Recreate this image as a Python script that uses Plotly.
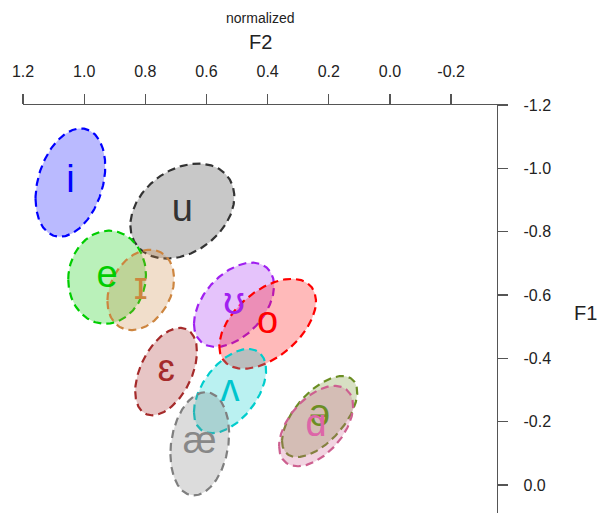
import numpy as np
import plotly.graph_objects as go

# Vowel ellipses (normalized F2, F1): centers, half-width (F2), half-height (F1), correlation
vowels = ["i", "u", "e", "ɪ", "ʊ", "o", "ɛ", "ʌ", "æ", "ə", "ɑ"]
f2_center = [1.045, 0.679, 0.925, 0.815, 0.510, 0.400, 0.732, 0.523, 0.622, 0.230, 0.2415]
f1_center = [-0.955, -0.865, -0.656, -0.616, -0.569, -0.509, -0.358, -0.2965, -0.130, -0.216, -0.186]
f2_halfwidth = [0.114, 0.170, 0.127, 0.109, 0.131, 0.158, 0.101, 0.118, 0.096, 0.123, 0.121]
f1_halfheight = [0.171, 0.150, 0.147, 0.127, 0.133, 0.142, 0.138, 0.133, 0.163, 0.128, 0.127]
correlation = [0.30, 0.30, 0.05, 0.28, 0.45, 0.50, 0.45, 0.50, 0.20, 0.60, 0.50]
line_colors = ["#0000ff", "#333333", "#00cd00", "#cd853f", "#a020f0", "#ff0000",
               "#a52a2a", "#00cdcd", "#7f7f7f", "#6b8e23", "#cd6090"]
text_colors = ["#0000ff", "#333333", "#00cd00", "#cd853f", "#a020f0", "#ff0000",
               "#a52a2a", "#00c5cd", "#888888", "#6b8e23", "#dd66a8"]

xtick_vals = [1.2, 1.0, 0.8, 0.6, 0.4, 0.2, 0.0, -0.2]
ytick_vals = [-1.2, -1.0, -0.8, -0.6, -0.4, -0.2, 0.0]

FONT = "Liberation Sans, Arial, sans-serif"


def hex_rgba(h, a):
    h = h.lstrip("#")
    r, g, b = int(h[0:2], 16), int(h[2:4], 16), int(h[4:6], 16)
    return f"rgba({r},{g},{b},{a})"


fig = go.Figure()
t = np.linspace(0, 2 * np.pi, 240)
for k in range(len(vowels)):
    rho = correlation[k]
    xs = f2_center[k] + f2_halfwidth[k] * np.cos(t)
    ys = f1_center[k] + f1_halfheight[k] * (rho * np.cos(t) + np.sqrt(1 - rho ** 2) * np.sin(t))
    fig.add_trace(go.Scatter(
        x=xs, y=ys, mode="lines", fill="toself",
        fillcolor=hex_rgba(line_colors[k], 0.27),
        line=dict(color=line_colors[k], width=2.2, dash="8px,5px"),
        hoverinfo="skip", showlegend=False,
    ))

for k in range(len(vowels)):
    fig.add_trace(go.Scatter(
        x=[f2_center[k]], y=[f1_center[k]], mode="text", text=[vowels[k]],
        textposition="middle center",
        textfont=dict(size=38, color=text_colors[k], family=FONT),
        hoverinfo="skip", showlegend=False,
    ))

axis_common = dict(
    showline=True, linecolor="#555555", linewidth=1.3,
    ticks="outside", ticklen=10, tickcolor="#555555", tickwidth=1.3,
    showgrid=False, zeroline=False, automargin=False,
    tickfont=dict(size=16, color="#222222", family=FONT),
)

W, H = 600, 513
plot_l, plot_r, plot_t, plot_b = 23, 497, 105, 513
# F1 axis: -1.2 at y 105, 0.0 at y 485 (316 px per unit)
y_bottom = 0.0 + (plot_b - 485) / 316.0


def px_to_paper_x(px):
    return (px - plot_l) / (plot_r - plot_l)


def px_to_paper_y(py):
    return (plot_b - py) / (plot_b - plot_t)


fig.update_layout(
    width=W, height=H,
    margin=dict(l=plot_l, r=W - plot_r, t=plot_t, b=H - plot_b, pad=0, autoexpand=False),
    paper_bgcolor="white", plot_bgcolor="white",
    hovermode=False,
    xaxis=dict(range=[1.2, -0.35], side="top", tickvals=xtick_vals,
               ticktext=[f"{v:.1f}" for v in xtick_vals], ticklabelstandoff=10, **axis_common),
    yaxis=dict(range=[y_bottom, -1.2], side="right", tickvals=ytick_vals,
               ticktext=[f"{v:.1f}" for v in ytick_vals], ticklabelstandoff=12, **axis_common),
    annotations=[
        dict(text="normalized", x=0.5, y=px_to_paper_y(18), xref="paper", yref="paper",
             xanchor="center", yanchor="middle",
             showarrow=False, font=dict(size=14, color="#222222", family=FONT)),
        dict(text="F2", x=0.5, y=px_to_paper_y(42), xref="paper", yref="paper",
             xanchor="center", yanchor="middle",
             showarrow=False, font=dict(size=20, color="#222222", family=FONT)),
        dict(text="F1", x=px_to_paper_x(585), y=px_to_paper_y(313), xref="paper", yref="paper",
             xanchor="center", yanchor="middle",
             showarrow=False, font=dict(size=20, color="#222222", family=FONT)),
    ],
)

fig.write_html(
    "out.html",
    config={"displayModeBar": False, "staticPlot": True},
    post_script="document.body.style.margin='0';document.body.style.overflow='hidden';",
)
